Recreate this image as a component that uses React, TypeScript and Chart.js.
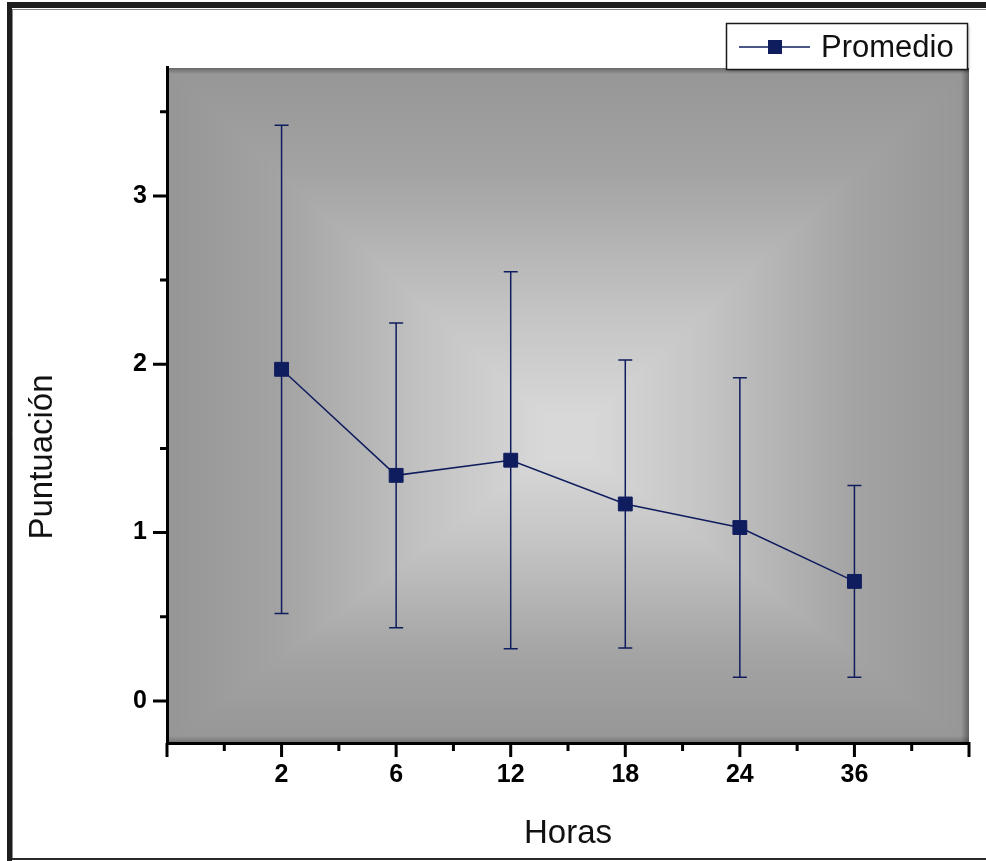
import React, { useEffect, useRef } from 'react';
import { Chart, registerables } from 'chart.js';
Chart.register(...registerables);

const hours = ['2', '6', '12', '18', '24', '36'];
const promedio = [1.97, 1.34, 1.43, 1.17, 1.03, 0.71];
const desviacion = [1.45, 0.905, 1.12, 0.855, 0.89, 0.57];
const yTickLabels = ['0', '1', '2', '3'];
const seriesLabel = 'Promedio';
const xTitle = 'Horas';
const yTitle = 'Puntuación';

const NAVY = '#0f1d5e';
const FONT = '"Liberation Sans", Arial, Helvetica, sans-serif';

const isInt = (v: number) => Math.abs(v - Math.round(v)) < 1e-9;

const shadeStops: [number, number][] = [[0, 150], [0.3, 163], [0.7, 196], [1, 216]];
const shadeAt = (s: number) => {
  for (let i = 1; i < shadeStops.length; i++) {
    const [s1, c1] = shadeStops[i];
    const [s0, c0] = shadeStops[i - 1];
    if (s <= s1) return c0 + ((s - s0) / (s1 - s0)) * (c1 - c0);
  }
  return shadeStops[shadeStops.length - 1][1];
};

const backgroundPlugin = {
  id: 'bgFrame',
  beforeDraw(chart: any) {
    const { ctx, chartArea } = chart;
    const W = chart.width, H = chart.height;
    ctx.save();
    ctx.fillStyle = '#ffffff';
    ctx.fillRect(0, 0, W, H);
    // outer frame
    ctx.fillStyle = '#1e1e1e';
    ctx.fillRect(7, 2, W - 7, 6);
    ctx.fillRect(7, 2, 5, H - 2);
    ctx.strokeStyle = '#8a8a8a';
    ctx.lineWidth = 1;
    ctx.beginPath();
    ctx.moveTo(12, 9.5); ctx.lineTo(W, 9.5);
    ctx.moveTo(12.5, 9); ctx.lineTo(12.5, H - 3);
    ctx.stroke();
    ctx.strokeStyle = '#2a2a2a';
    ctx.lineWidth = 2;
    ctx.beginPath();
    ctx.moveTo(12, 859); ctx.lineTo(W, 859);
    ctx.stroke();

    // plot area pyramid gradient (per pixel)
    const l = Math.round(chartArea.left), t = Math.round(chartArea.top);
    const r = Math.round(chartArea.right), b = Math.round(chartArea.bottom);
    const w = r - l, h = b - t;
    const cx = w * 0.5, cy = h * 0.55;
    const core = 0.06;
    const img = ctx.createImageData(w, h);
    const d = img.data;
    for (let py = 0; py < h; py++) {
      const dy = py < cy ? (cy - py) / cy : (py - cy) / (h - cy);
      for (let px = 0; px < w; px++) {
        const dx = px < cx ? (cx - px) / cx : (px - cx) / (w - cx);
        let m = Math.max(dx, dy);
        m = Math.max(0, (m - core) / (1 - core));
        const v = shadeAt(1 - m);
        const k = (py * w + px) * 4;
        d[k] = v; d[k + 1] = v; d[k + 2] = v; d[k + 3] = 255;
      }
    }
    ctx.putImageData(img, l, t);

    // inner edge shading
    let g = ctx.createLinearGradient(r - 8, 0, r, 0);
    g.addColorStop(0, 'rgba(0,0,0,0)');
    g.addColorStop(1, 'rgba(0,0,0,0.35)');
    ctx.fillStyle = g;
    ctx.fillRect(r - 8, t, 8, h);
    g = ctx.createLinearGradient(0, t, 0, t + 6);
    g.addColorStop(0, 'rgba(0,0,0,0.3)');
    g.addColorStop(1, 'rgba(0,0,0,0)');
    ctx.fillStyle = g;
    ctx.fillRect(l, t, w, 6);
    g = ctx.createLinearGradient(0, b - 7, 0, b);
    g.addColorStop(0, 'rgba(0,0,0,0)');
    g.addColorStop(1, 'rgba(0,0,0,0.25)');
    ctx.fillStyle = g;
    ctx.fillRect(l, b - 7, w, 7);
    ctx.restore();
  },
};

const errorBarPlugin = {
  id: 'errorBars',
  beforeDatasetsDraw(chart: any) {
    const { ctx, scales } = chart;
    const xs = scales.x, ys = scales.y;
    ctx.save();
    ctx.strokeStyle = NAVY;
    ctx.lineWidth = 1.5;
    promedio.forEach((m, i) => {
      const x = xs.getPixelForValue(i);
      const yTop = ys.getPixelForValue(m + desviacion[i]);
      const yBot = ys.getPixelForValue(m - desviacion[i]);
      ctx.beginPath();
      ctx.moveTo(x, yTop); ctx.lineTo(x, yBot);
      ctx.moveTo(x - 7, yTop); ctx.lineTo(x + 7, yTop);
      ctx.moveTo(x - 7, yBot); ctx.lineTo(x + 7, yBot);
      ctx.stroke();
    });
    ctx.restore();
  },
};

const axesPlugin = {
  id: 'axesLegend',
  afterDraw(chart: any) {
    const { ctx, chartArea, scales } = chart;
    const xs = scales.x, ys = scales.y;
    const l = chartArea.left, b = chartArea.bottom, r = chartArea.right, t = chartArea.top;
    ctx.save();
    ctx.strokeStyle = '#000';
    ctx.lineWidth = 3;
    ctx.beginPath();
    ctx.moveTo(l + 0.5, t - 2); ctx.lineTo(l + 0.5, b + 1.5);
    ctx.moveTo(l - 1, b + 0.5); ctx.lineTo(r + 1.5, b + 0.5);
    ys.ticks.forEach((tk: any) => {
      const y = ys.getPixelForValue(tk.value);
      const len = isInt(tk.value) ? 14 : 7;
      ctx.moveTo(l, y); ctx.lineTo(l - len, y);
    });
    xs.ticks.forEach((tk: any) => {
      const x = xs.getPixelForValue(tk.value);
      const len = isInt(tk.value) ? 14 : 8;
      ctx.moveTo(x, b); ctx.lineTo(x, b + len);
    });
    ctx.stroke();

    // axis titles
    ctx.fillStyle = '#111';
    ctx.font = `33px ${FONT}`;
    ctx.textAlign = 'center';
    ctx.textBaseline = 'alphabetic';
    ctx.fillText(xTitle, (l + r) / 2, 843);
    ctx.save();
    ctx.translate(51.5, 457);
    ctx.rotate(-Math.PI / 2);
    ctx.fillText(yTitle, 0, 0);
    ctx.restore();

    // legend
    const ds = chart.data.datasets[0];
    ctx.save();
    ctx.shadowColor = 'rgba(0,0,0,0.35)';
    ctx.shadowBlur = 3;
    ctx.shadowOffsetX = 1;
    ctx.shadowOffsetY = 1;
    ctx.fillStyle = '#fff';
    ctx.fillRect(726.5, 23.5, 241, 46);
    ctx.restore();
    ctx.strokeStyle = '#1a1a1a';
    ctx.lineWidth = 1.5;
    ctx.strokeRect(726.5, 23.5, 241, 46);
    ctx.strokeStyle = ds.borderColor;
    ctx.lineWidth = 1.5;
    ctx.beginPath();
    ctx.moveTo(739, 47); ctx.lineTo(810, 47);
    ctx.stroke();
    ctx.fillStyle = ds.pointBackgroundColor;
    ctx.fillRect(768, 40, 14, 14);
    ctx.fillStyle = '#111';
    ctx.font = `31px ${FONT}`;
    ctx.textAlign = 'left';
    ctx.fillText(ds.label, 821, 57);
    ctx.restore();
  },
};

export default function App() {
  const ref = useRef<HTMLCanvasElement | null>(null);
  useEffect(() => {
    if (!ref.current) return;
    const chart = new Chart(ref.current, {
      type: 'line',
      data: {
        datasets: [
          {
            label: seriesLabel,
            data: hours.map((_, i) => ({ x: i, y: promedio[i] })),
            borderColor: NAVY,
            borderWidth: 1.5,
            pointStyle: 'rect',
            pointRadius: 9.8,
            pointBackgroundColor: NAVY,
            pointBorderColor: NAVY,
            pointBorderWidth: 1,
            fill: false,
            tension: 0,
          } as any,
        ],
      },
      options: {
        animation: false,
        responsive: false,
        maintainAspectRatio: false,
        events: [],
        layout: { padding: { left: 0, top: 68, right: 16, bottom: 0 } },
        plugins: { legend: { display: false }, tooltip: { enabled: false }, title: { display: false } },
        scales: {
          x: {
            type: 'linear',
            position: 'bottom',
            min: -1,
            max: 6,
            grid: { display: false, drawTicks: false, tickLength: 0 },
            border: { display: false },
            afterBuildTicks: (s: any) => {
              const arr = [];
              for (let v = -1; v <= 6.0001; v += 0.5) arr.push({ value: v });
              s.ticks = arr;
            },
            afterFit: (s: any) => { s.height = 118; },
            ticks: {
              autoSkip: false,
              maxRotation: 0,
              minRotation: 0,
              padding: 17,
              color: '#000',
              font: { family: FONT, size: 25, weight: 'bold' },
              callback: (v: any) => {
                const n = Number(v);
                return isInt(n) && n >= 0 && n < hours.length ? hours[Math.round(n)] : '';
              },
            },
          },
          y: {
            type: 'linear',
            min: -0.25,
            max: 3.76,
            grid: { display: false, drawTicks: false, tickLength: 0 },
            border: { display: false },
            afterBuildTicks: (s: any) => {
              const arr = [];
              for (let v = 0; v <= 3.5001; v += 0.5) arr.push({ value: v });
              s.ticks = arr;
            },
            afterFit: (s: any) => { s.width = 167; },
            ticks: {
              autoSkip: false,
              padding: 20,
              color: '#000',
              font: { family: FONT, size: 25, weight: 'bold' },
              callback: (v: any) => {
                const n = Number(v);
                return isInt(n) && n >= 0 && n < yTickLabels.length ? yTickLabels[Math.round(n)] : '';
              },
            },
          },
        },
      } as any,
      plugins: [backgroundPlugin, errorBarPlugin, axesPlugin],
    });
    return () => chart.destroy();
  }, []);
  return (
    <div style={{ position: 'absolute', left: 0, top: 0, width: 986, height: 861 }}>
      <canvas ref={ref} width={986} height={861} style={{ display: 'block', width: 986, height: 861 }} />
    </div>
  );
}
